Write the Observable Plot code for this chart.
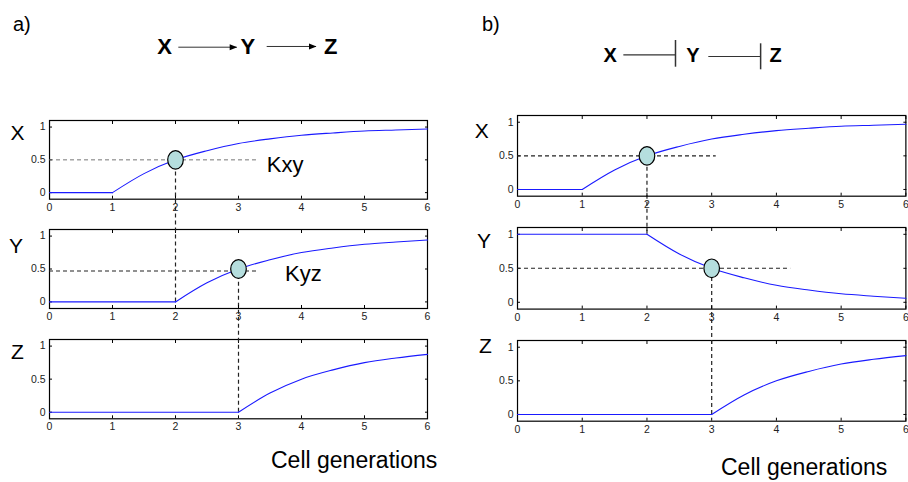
<!DOCTYPE html>
<html><head><meta charset="utf-8">
<script src="https://cdn.jsdelivr.net/npm/d3@7"></script>
<script src="https://cdn.jsdelivr.net/npm/@observablehq/plot@0.6"></script>
<style>
html,body{margin:0;padding:0;background:#fff;overflow:hidden}
#fig{position:relative;width:908px;height:482px;overflow:hidden;background:#fff;font-family:"Liberation Sans",Arial,sans-serif;color:#000}
.lbl{position:absolute;white-space:nowrap;line-height:1}
</style></head><body><div id="fig"></div>
<script>
// ---------- data ----------
const generations = [0, 0.5, 1, 1.5, 2, 2.5, 3, 3.5, 4, 4.5, 5, 5.5, 6];
// panel a: activation cascade X -> Y -> Z
const aX = [0, 0, 0, 0.29, 0.5, 0.64, 0.75, 0.82, 0.875, 0.91, 0.94, 0.955, 0.97];
const aY = [0, 0, 0, 0, 0, 0.29, 0.5, 0.64, 0.75, 0.82, 0.875, 0.91, 0.94];
const aZ = [0, 0, 0, 0, 0, 0, 0, 0.29, 0.5, 0.64, 0.75, 0.82, 0.875];
// panel b: repression cascade X -| Y -| Z
const bX = [0, 0, 0, 0.29, 0.5, 0.64, 0.75, 0.82, 0.875, 0.91, 0.94, 0.955, 0.97];
const bY = [1, 1, 1, 1, 1, 0.71, 0.5, 0.36, 0.25, 0.18, 0.125, 0.09, 0.06];
const bZ = [0, 0, 0, 0, 0, 0, 0, 0.29, 0.5, 0.64, 0.75, 0.82, 0.875];
// generation at which each signal starts to change
const onsetX = 1, onsetY = 2, onsetZ = 3;

const xTicks = [0, 1, 2, 3, 4, 5, 6];
const yTicks = [0, 0.5, 1];
const yDomain = [-0.1, 1.1];

// thresholds (half-max points) and guide lines
const thresholdAX = {x: 2, y: 0.5};
const thresholdAY = {x: 3, y: 0.5};
const thresholdBX = {x: 2, y: 0.5};
const thresholdBY = {x: 3, y: 0.5};
const guideAX = {y: 0.5, x1: 0, x2: 3.3};
const guideAY = {y: 0.47, x1: 0, x2: 3.3};
const guideBX = {y: 0.5, x1: 0, x2: 3.07};
const guideBY = {y: 0.5, x1: 0, x2: 4.22};
const labelKxy = {x: 3.45, y: 0.42, text: "Kxy"};
const labelKyz = {x: 3.74, y: 0.43, text: "Kyz"};

// network diagrams
const nodeNames = ["X", "Y", "Z"];
const nodePos = [0, 1, 2];
const arrowsA = [{x1: 0.17, x2: 0.873, y: 0.509}, {x1: 1.234, x2: 1.828, y: 0.53}];
const linesB = [{x1: 0.165, x2: 0.79, y: 0.49}, {x1: 1.193, x2: 1.82, y: 0.444}];
const barsB = [{x: 0.79, y1: 0.147, y2: 0.889}, {x: 1.82, y1: 0.075, y2: 0.797}];

// ---------- layout ----------
const LAYOUT = {
  a: {left: 49.3, right: 427.3, tops: [120, 229.3, 339], bottoms: [198.7, 308.3, 418.3]},
  b: {left: 517.3, right: 905.7, tops: [115, 226.7, 340], bottoms: [195.7, 308.3, 420.7]}
};
const ML = 36, MR = 14, MT = 10, MB = 22;
const FONT = '"Liberation Sans", Arial, sans-serif';
const fig = document.getElementById("fig");

const ellipse = {draw(ctx) {
  const rx = 7.8, ry = 9.3, k = 0.5523;
  ctx.moveTo(rx, 0);
  ctx.bezierCurveTo(rx, k * ry, k * rx, ry, 0, ry);
  ctx.bezierCurveTo(-k * rx, ry, -rx, k * ry, -rx, 0);
  ctx.bezierCurveTo(-rx, -k * ry, -k * rx, -ry, 0, -ry);
  ctx.bezierCurveTo(k * rx, -ry, rx, -k * ry, rx, 0);
  ctx.closePath();
}};
const arrowHead = {draw(ctx) {
  ctx.moveTo(0, 0); ctx.lineTo(-7.5, -3); ctx.lineTo(-7.5, 3); ctx.closePath();
}};

function pageScale(panel, row) {
  const f = LAYOUT[panel];
  return Plot.scale({y: {domain: yDomain, range: [f.bottoms[row], f.tops[row]]}});
}

function place(el, left, top, z) {
  el.style.position = "absolute";
  el.style.left = left + "px";
  el.style.top = top + "px";
  el.style.zIndex = z;
  fig.appendChild(el);
}

function subplot({panel, row, values, onset, guide, dot, guideStyle, connector, label}) {
  const f = LAYOUT[panel];
  const top = f.tops[row], bottom = f.bottoms[row];
  const W = f.right - f.left, H = bottom - top;
  const rows = generations.map((t, i) => ({t, v: values[i]}));
  const flat = rows.filter(d => d.t <= onset);
  const rise = rows.filter(d => d.t >= onset);
  const marks = [
    Plot.frame({stroke: "black", strokeWidth: 1.2}),
    Plot.axisX(xTicks, {anchor: "bottom", tickSize: 0, tickPadding: 4, tickFormat: d => String(d), fill: "#222", label: null}),
    Plot.axisX(xTicks, {anchor: "bottom", tickSize: 3, dy: -3, tickFormat: () => "", label: null}),
    Plot.axisX(xTicks, {anchor: "top", tickSize: 3, dy: 3, tickFormat: () => "", label: null}),
    Plot.axisY(yTicks, {anchor: "left", tickSize: 0, tickPadding: 4, tickFormat: d => String(d), fill: "#222", label: null}),
    Plot.axisY(yTicks, {anchor: "left", tickSize: 3, dx: 3, tickFormat: () => "", label: null}),
    Plot.axisY(yTicks, {anchor: "right", tickSize: 3, dx: -3, tickFormat: () => "", label: null})
  ];
  if (connector) {
    marks.push(Plot.ruleX([connector], {x: "x", y1: "y1", y2: "y2", stroke: "#222", strokeWidth: 1.2, strokeDasharray: "4,3"}));
  }
  if (guide) {
    marks.push(Plot.ruleY([guide], {y: "y", x1: "x1", x2: "x2", ...guideStyle}));
  }
  marks.push(Plot.line(flat, {x: "t", y: "v", stroke: "#1a1aff", strokeWidth: 1.1}));
  marks.push(Plot.line(rise, {x: "t", y: "v", stroke: "#1a1aff", strokeWidth: 1.1, curve: "monotone-x"}));
  if (dot) {
    marks.push(Plot.dot([dot], {x: "x", y: "y", symbol: ellipse, fill: "#b5dede", stroke: "black", strokeWidth: 1.2}));
  }
  if (label) {
    marks.push(Plot.text([label], {x: "x", y: "y", text: "text", textAnchor: "start", fontSize: 22, fill: "black"}));
  }
  const svg = Plot.plot({
    width: W + ML + MR, height: H + MT + MB,
    marginLeft: ML, marginRight: MR, marginTop: MT, marginBottom: MB,
    x: {domain: [0, 6], label: null},
    y: {domain: yDomain, label: null},
    style: {background: "transparent", overflow: "visible", fontFamily: FONT, fontSize: "10.5px", color: "black"},
    marks
  });
  place(svg, f.left - ML, top - MT, 10 - row);
}

// connectors reach from the upper threshold circle down to the lower curve's onset
function reach(panel, upperRow, upperY) {
  const up = pageScale(panel, upperRow), low = pageScale(panel, upperRow + 1);
  return low.invert(up.apply(upperY));
}

const lightGuide = {stroke: "#666", strokeWidth: 0.9, strokeDasharray: "4,3"};
const darkGuide = {stroke: "#222", strokeWidth: 1.1, strokeDasharray: "4,3"};

subplot({panel: "a", row: 0, values: aX, onset: onsetX, guide: guideAX, guideStyle: lightGuide, dot: thresholdAX, label: labelKxy});
subplot({panel: "a", row: 1, values: aY, onset: onsetY, guide: guideAY, guideStyle: darkGuide, dot: thresholdAY, label: labelKyz,
  connector: {x: thresholdAX.x, y1: 0, y2: reach("a", 0, thresholdAX.y)}});
subplot({panel: "a", row: 2, values: aZ, onset: onsetZ,
  connector: {x: thresholdAY.x, y1: 0, y2: reach("a", 1, thresholdAY.y)}});
subplot({panel: "b", row: 0, values: bX, onset: onsetX, guide: guideBX, guideStyle: darkGuide, dot: thresholdBX});
subplot({panel: "b", row: 1, values: bY, onset: onsetY, guide: guideBY, guideStyle: darkGuide, dot: thresholdBY,
  connector: {x: thresholdBX.x, y1: 1, y2: reach("b", 0, thresholdBX.y)}});
subplot({panel: "b", row: 2, values: bZ, onset: onsetZ,
  connector: {x: thresholdBY.x, y1: 0, y2: reach("b", 1, thresholdBY.y)}});

// ---------- network diagrams ----------
const nodes = nodeNames.map((name, i) => ({name, x: nodePos[i]}));
const diagA = Plot.plot({
  width: 454, height: 34, marginLeft: 164.2, marginRight: 123.7, marginTop: 0, marginBottom: 0,
  x: {domain: [0, 2], axis: null}, y: {domain: [0, 1], axis: null},
  style: {background: "transparent", overflow: "visible", fontFamily: FONT},
  marks: [
    Plot.ruleY(arrowsA, {y: "y", x1: "x1", x2: "x2", stroke: "#333", strokeWidth: 1}),
    Plot.dot(arrowsA, {x: "x2", y: "y", symbol: arrowHead, fill: "black", stroke: null}),
    Plot.text(nodes, {x: "x", y: () => 0.51, text: "name", fontSize: 22, fontWeight: "bold", fill: "black"})
  ]
});
place(diagA, 0, 30, 20);

const diagB = Plot.plot({
  width: 454, height: 36, marginLeft: 155.7, marginRight: 133, marginTop: 0, marginBottom: 0,
  x: {domain: [0, 2], axis: null}, y: {domain: [0, 1], axis: null},
  style: {background: "transparent", overflow: "visible", fontFamily: FONT},
  marks: [
    Plot.ruleY(linesB, {y: "y", x1: "x1", x2: "x2", stroke: "#333", strokeWidth: 1.1}),
    Plot.ruleX(barsB, {x: "x", y1: "y1", y2: "y2", stroke: "#333", strokeWidth: 1.5}),
    Plot.text(nodes, {x: "x", y: () => 0.464, text: "name", fontSize: 20, fontWeight: "bold", fill: "black"})
  ]
});
place(diagB, 454, 36, 20);

// ---------- free text ----------
function addLabel(text, left, baseline, fs) {
  const d = document.createElement("div");
  d.className = "lbl";
  d.textContent = text;
  d.style.fontSize = fs + "px";
  d.style.left = left + "px";
  d.style.top = (baseline - 0.8465 * fs) + "px";
  d.style.zIndex = 30;
  fig.appendChild(d);
}
addLabel("a)", 13, 31, 20);
addLabel("b)", 482, 31, 20);
addLabel("X", 10.5, 140, 21);
addLabel("Y", 9, 253, 21);
addLabel("Z", 11, 359, 21);
addLabel("X", 474.7, 138, 21);
addLabel("Y", 477, 248, 21);
addLabel("Z", 479, 353, 21);
addLabel("Cell generations", 271, 468, 23);
addLabel("Cell generations", 721, 475.5, 23);
</script></body></html>
